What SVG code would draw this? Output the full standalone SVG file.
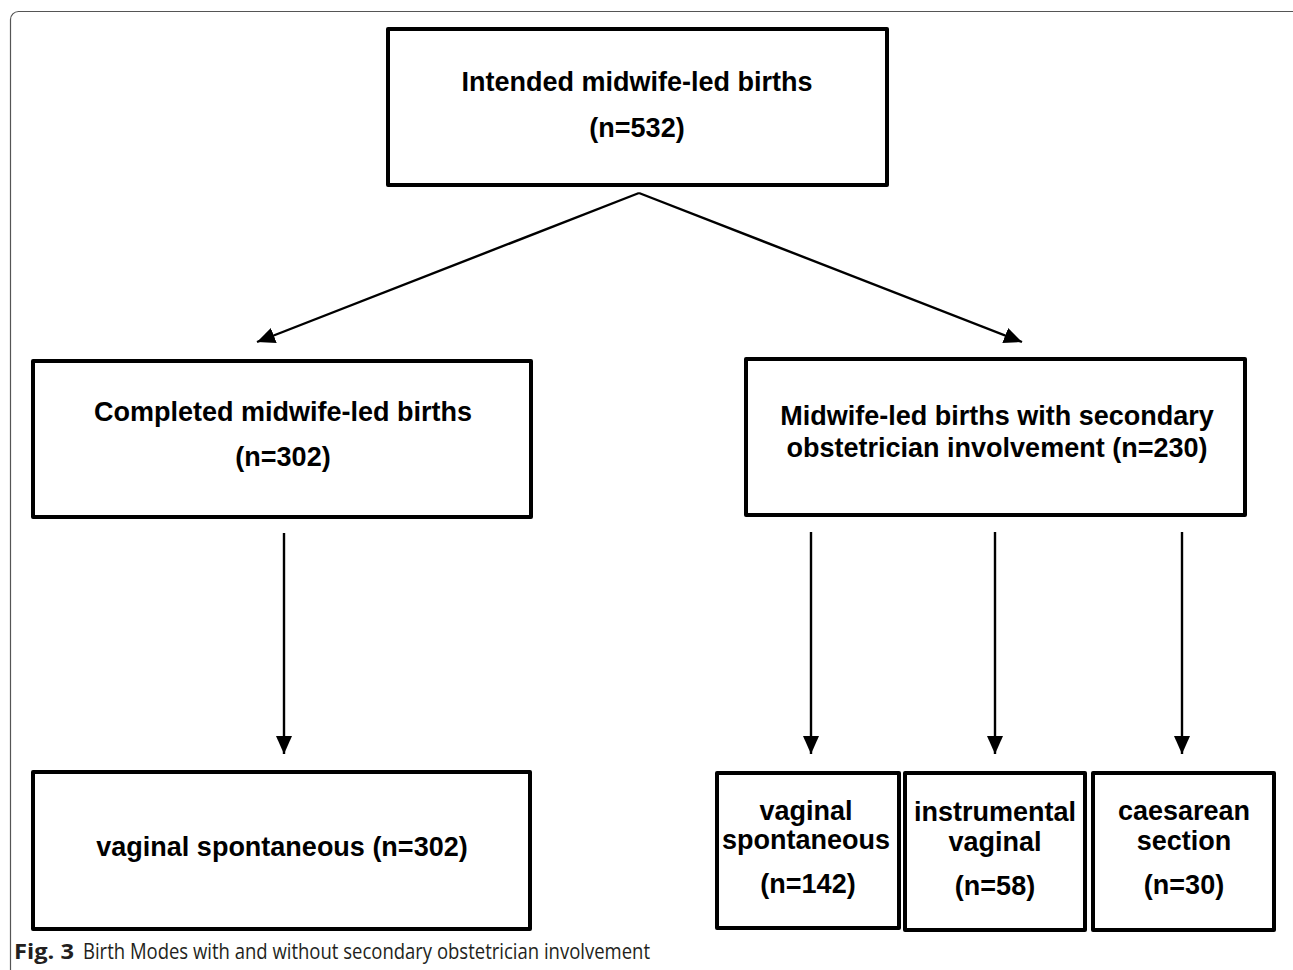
<svg xmlns="http://www.w3.org/2000/svg" width="1293" height="970" viewBox="0 0 1293 970">
<style>
.box{fill:#fff;stroke:#000;stroke-width:4;stroke-linejoin:round}
.t{font-family:"Liberation Sans",Arimo,Arial,sans-serif;font-weight:bold;font-size:27px;fill:#000;text-anchor:middle}
.c{stroke:#000;stroke-width:2.4;fill:none}
.cap{font-family:"Open Sans","Liberation Sans",sans-serif;font-size:21px;fill:#231f20}
</style>
<defs>
<marker id="ah" viewBox="0 0 18 16" refX="18" refY="8" markerWidth="18" markerHeight="16" markerUnits="userSpaceOnUse" orient="auto">
<path d="M0,0 L18,8 L0,16 Z" fill="#000"/>
</marker>
</defs>
<rect width="1293" height="970" fill="#fff"/>
<rect x="10.5" y="11.5" width="1290" height="1000" rx="8" fill="none" stroke="#555" stroke-width="1.2"/>
<g id="connectors">
<path class="c" d="M639,193 L257,342" marker-end="url(#ah)"/>
<path class="c" d="M639,193 L1022,342" marker-end="url(#ah)"/>
<path class="c" d="M284,533 L284,754" marker-end="url(#ah)"/>
<path class="c" d="M811,532 L811,754" marker-end="url(#ah)"/>
<path class="c" d="M995,532 L995,754" marker-end="url(#ah)"/>
<path class="c" d="M1182,532 L1182,754" marker-end="url(#ah)"/>
</g>
<g id="n-intended">
<rect class="box" x="388" y="29" width="499" height="156"/>
<text class="t" x="637" y="91">Intended midwife-led births</text>
<text class="t" x="637" y="137">(n=532)</text>
</g>
<g id="n-completed">
<rect class="box" x="33" y="361" width="498" height="156"/>
<text class="t" x="283" y="421">Completed midwife-led births</text>
<text class="t" x="283" y="466">(n=302)</text>
</g>
<g id="n-secondary">
<rect class="box" x="746" y="359" width="499" height="156"/>
<text class="t" x="997" y="425">Midwife-led births with secondary</text>
<text class="t" x="997" y="457">obstetrician involvement (n=230)</text>
</g>
<g id="n-vaginal-302">
<rect class="box" x="33" y="772" width="497" height="157"/>
<text class="t" x="282" y="856">vaginal spontaneous (n=302)</text>
</g>
<g id="n-vaginal-142">
<rect class="box" x="717" y="773" width="182" height="155"/>
<text class="t" x="806" y="820">vaginal</text>
<text class="t" x="806" y="849">spontaneous</text>
<text class="t" x="808" y="893">(n=142)</text>
</g>
<g id="n-instrumental">
<rect class="box" x="905" y="773" width="180" height="157"/>
<text class="t" x="995" y="821">instrumental</text>
<text class="t" x="995" y="851">vaginal</text>
<text class="t" x="995" y="895">(n=58)</text>
</g>
<g id="n-caesarean">
<rect class="box" x="1093" y="773" width="181" height="157"/>
<text class="t" x="1184" y="820">caesarean</text>
<text class="t" x="1184" y="850">section</text>
<text class="t" x="1184" y="894">(n=30)</text>
</g>
<text class="cap" x="14" y="959"><tspan font-weight="bold" textLength="60" lengthAdjust="spacingAndGlyphs">Fig. 3</tspan><tspan x="83" textLength="567" lengthAdjust="spacingAndGlyphs">Birth Modes with and without secondary obstetrician involvement</tspan></text>
</svg>
